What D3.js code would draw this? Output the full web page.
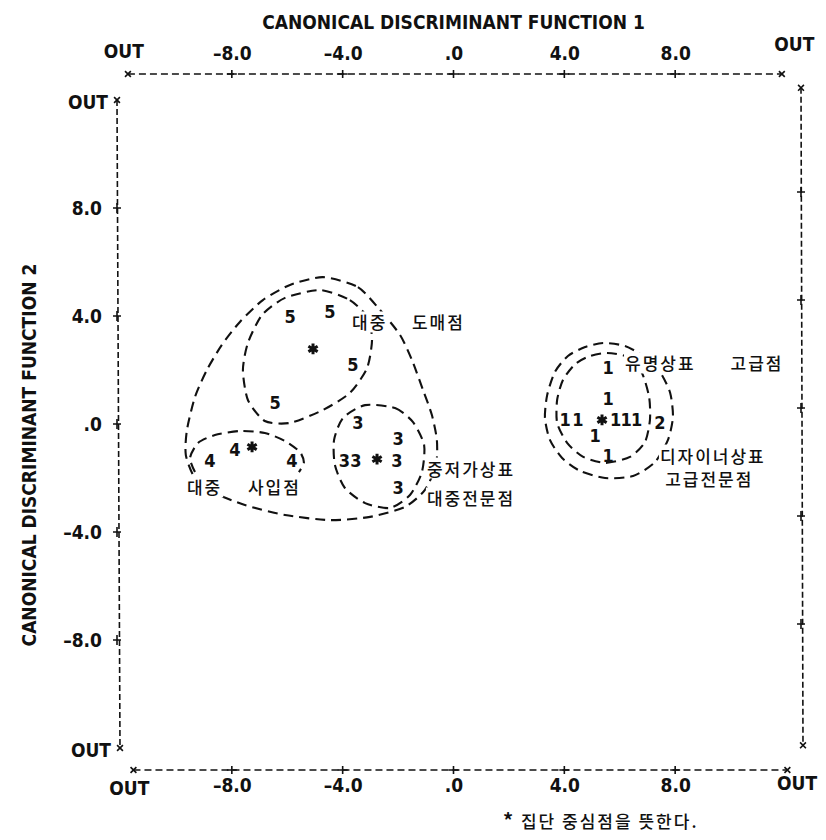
<!DOCTYPE html>
<html>
<head>
<meta charset="utf-8">
<script src="https://cdn.jsdelivr.net/npm/d3@7"></script>
<style>
body { margin: 0; background: #fff; }
svg { display: block; }
.ax { font-family: "Liberation Sans Narrow", "DejaVu Sans Condensed", sans-serif; font-weight: bold; font-size: 19px; fill: #111; }
.kr { font-family: "Noto Sans CJK KR", sans-serif; font-size: 17px; font-weight: 500; fill: #111; letter-spacing: 2px; }
.pt { font-family: "DejaVu Sans Condensed", "Liberation Sans", sans-serif; font-weight: bold; font-size: 18px; fill: #111; }
</style>
</head>
<body>
<svg id="chart" width="826" height="840"></svg>
<script>
// tick values shared by all four sides
var tickValues = [-8, -4, 0, 4, 8];

// cases, labelled with their group number
var group1X = [5.58, 5.58, 4.03, 4.49, 5.85, 6.23, 6.61, 5.11, 5.58];
var group1Y = [2.08, 0.96, 0.15, 0.15, 0.15, 0.15, 0.15, -0.41, -1.15];
var group2X = [7.45];
var group2Y = [0.04];
var group3X = [-3.45, -2.00, -3.94, -3.52, -2.04, -2.00];
var group3Y = [0.04, -0.55, -1.34, -1.34, -1.34, -2.37];
var group4X = [-8.79, -7.89, -5.83];
var group4Y = [-1.34, -0.96, -1.34];
var group5X = [-5.90, -4.46, -3.63, -6.44];
var group5Y = [3.97, 4.16, 2.19, 0.78];

// group centroids (*)
var centroidX = [5.36, -2.76, -7.27, -5.07];
var centroidY = [0.15, -1.30, -0.85, 2.78];

// hand drawn dashed outlines round the groups
var outline5X = [-4.82, -3.74, -3.09, -2.94, -3.12, -3.74, -4.71, -5.90, -6.81, -7.42, -7.60, -7.42, -6.91, -6.08];
var outline5Y = [4.96, 4.59, 3.93, 3.11, 2.07, 1.15, 0.52, 0.04, 0.11, 0.89, 2.0, 3.0, 4.04, 4.67];
var outline45X = [-4.71, -3.45, -2.65, -1.93, -1.50, -1.10, -0.78, -0.60, -0.63, -1.03, -1.75, -3.01, -4.46, -6.08, -7.53, -8.61, -9.33, -9.66, -9.62, -9.33, -8.90, -8.36, -7.71, -6.88, -5.90];
var outline45Y = [5.44, 5.07, 4.22, 3.30, 2.37, 1.26, 0.33, -0.59, -1.52, -2.44, -3.07, -3.44, -3.56, -3.37, -3.0, -2.56, -2.0, -1.15, -0.22, 1.0, 2.0, 2.93, 3.78, 4.59, 5.15];
var outline4X = [-9.33, -9.51, -9.22, -8.61, -7.71, -6.81, -6.08, -5.54, -5.40, -5.58];
var outline4Y = [-1.78, -1.26, -0.70, -0.41, -0.26, -0.33, -0.63, -1.04, -1.44, -1.78];
var outline3X = [-3.19, -2.11, -1.46, -1.06, -1.14, -1.57, -2.29, -3.19, -3.92, -4.28, -4.31, -3.99];
var outline3Y = [0.70, 0.59, 0.07, -0.78, -1.78, -2.63, -3.11, -2.93, -2.37, -1.52, -0.59, 0.22];
var outline1X = [5.54, 6.30, 6.80, 7.06, 7.09, 6.91, 6.37, 5.47, 4.68, 4.10, 3.74, 3.74, 3.95, 4.39, 4.93];
var outline1Y = [2.63, 2.48, 1.89, 1.0, 0.15, -0.67, -1.22, -1.44, -1.22, -0.70, 0.04, 0.89, 1.63, 2.22, 2.52];
var outline12X = [5.40, 6.19, 6.84, 7.45, 7.82, 7.92, 7.74, 7.27, 6.48, 5.47, 4.57, 3.92, 3.48, 3.30, 3.38, 3.66, 4.13, 4.75];
var outline12Y = [3.0, 2.89, 2.52, 1.93, 1.15, 0.26, -0.59, -1.41, -1.93, -2.0, -1.74, -1.26, -0.59, 0.22, 1.07, 1.93, 2.52, 2.85];

// Korean group names, anchored in function units
var noteText = ["대중", "도매점", "대중", "사입점", "중저가상표", "대중전문점", "유명상표", "고급점", "디자이너상표", "고급전문점"];
var noteX = [-3.66, -1.50, -9.62, -7.42, -0.96, -0.96, 6.19, 10.0, 7.45, 7.64];
var noteY = [3.78, 3.78, -2.33, -2.33, -1.63, -2.74, 2.26, 2.26, -1.15, -2.0];

var svg = d3.select("#chart");
var x = d3.scaleLinear().domain([-12, 12]).range([121, 786]);
var y = d3.scaleLinear().domain([-12, 12]).range([748, 100]);
var topY = 74, bottomY = 770, leftX = 117, rightX = 801;

function fmt(v) {
    if (v === 0) return ".0";
    return (v < 0 ? "\u2013" : "") + Math.abs(v).toFixed(1);
}

// titles
svg.append("text").attr("class", "ax")
    .attr("x", x(0)).attr("y", 29)
    .attr("text-anchor", "middle")
    .text("CANONICAL DISCRIMINANT FUNCTION 1");
svg.append("text").attr("class", "ax")
    .attr("transform", "translate(36," + y(-1.15) + ") rotate(-90)")
    .attr("text-anchor", "middle")
    .text("CANONICAL DISCRIMINANT FUNCTION 2");

// tick labels through d3 axes, lines drawn by hand below
function labelsOnly(g) {
    g.select(".domain").remove();
    g.selectAll("text").attr("class", "ax").attr("fill", null);
}
svg.append("g").attr("transform", "translate(0," + topY + ")")
    .call(d3.axisTop(x).tickValues(tickValues).tickSize(0).tickPadding(14).tickFormat(fmt))
    .call(labelsOnly);
svg.append("g").attr("transform", "translate(0," + bottomY + ")")
    .call(d3.axisBottom(x).tickValues(tickValues).tickSize(0).tickPadding(9).tickFormat(fmt))
    .call(labelsOnly);
svg.append("g").attr("transform", "translate(" + leftX + ",0)")
    .call(d3.axisLeft(y).tickValues(tickValues).tickSize(0).tickPadding(15).tickFormat(fmt))
    .call(labelsOnly);
svg.selectAll("g text").attr("font-family", null).attr("font-size", null);

// dashed frame
var dash = "7,4";
var frame = svg.append("g").attr("stroke", "#111").attr("stroke-width", 1.6).attr("fill", "none");
frame.append("line").attr("x1", x(-11.75)).attr("x2", x(11.85)).attr("y1", topY).attr("y2", topY).attr("stroke-dasharray", dash);
frame.append("line").attr("x1", x(-11.55)).attr("x2", x(12.05)).attr("y1", bottomY).attr("y2", bottomY).attr("stroke-dasharray", dash);
frame.append("line").attr("x1", leftX).attr("x2", leftX + 3).attr("y1", y(12)).attr("y2", y(-12)).attr("stroke-dasharray", "6,3");
frame.append("line").attr("x1", rightX).attr("x2", rightX + 2).attr("y1", y(12.45)).attr("y2", y(-11.9)).attr("stroke-dasharray", "6,3");

// + marks
tickValues.forEach(function (v) {
    frame.append("path").attr("d", "M" + (x(v) - 5) + "," + topY + "h10M" + x(v) + "," + (topY - 4) + "v8");
    frame.append("path").attr("d", "M" + (x(v) - 5) + "," + bottomY + "h10M" + x(v) + "," + (bottomY - 4) + "v8");
    frame.append("path").attr("d", "M" + (leftX - 4) + "," + y(v) + "h8M" + leftX + "," + (y(v) - 5) + "v10");
    frame.append("path").attr("d", "M" + (rightX - 4) + "," + (y(v) - 16) + "h8M" + rightX + "," + (y(v) - 21) + "v10");
});

// x marks at the OUT ends
var cross = d3.symbol().type(d3.symbolTimes).size(24);
[[x(-11.75), topY], [x(11.85), topY], [x(-11.55), bottomY], [x(12.05), bottomY],
 [leftX, y(12)], [leftX + 3, y(-12)], [rightX, y(12.45)], [rightX + 2, y(-11.9)]].forEach(function (p) {
    frame.append("path").attr("d", cross).attr("transform", "translate(" + p[0] + "," + p[1] + ")").attr("stroke-width", 1.6);
});

// OUT labels
var outs = [[x(-11.9), 58, "middle"], [x(12.3), 51, "middle"], [x(-11.7), 795, "middle"], [x(12.4), 790, "middle"],
            [leftX - 9, y(12) + 9, "end"], [leftX - 6, y(-12) + 9, "end"]];
outs.forEach(function (o) {
    svg.append("text").attr("class", "ax").attr("x", o[0]).attr("y", o[1]).attr("text-anchor", o[2]).text("OUT");
});

// dashed group outlines
var lineClosed = d3.line().x(function (d) { return x(d[0]); }).y(function (d) { return y(d[1]); }).curve(d3.curveCardinalClosed.tension(0.3));
var lineOpen = d3.line().x(function (d) { return x(d[0]); }).y(function (d) { return y(d[1]); }).curve(d3.curveCardinal.tension(0.3));
var outlines = svg.append("g").attr("fill", "none").attr("stroke", "#111").attr("stroke-width", 2.1).attr("stroke-dasharray", "10,6");
[[outline5X, outline5Y], [outline45X, outline45Y], [outline3X, outline3Y], [outline1X, outline1Y], [outline12X, outline12Y]].forEach(function (o) {
    outlines.append("path").attr("d", lineClosed(d3.zip(o[0], o[1])));
});
outlines.append("path").attr("d", lineOpen(d3.zip(outline4X, outline4Y)));

// notes get a white backing so the outlines break under them
var notes = svg.append("g");
noteText.forEach(function (t, i) {
    var tx = notes.append("text").attr("class", "kr")
        .attr("x", x(noteX[i])).attr("y", y(noteY[i]))
        .attr("dominant-baseline", "central").text(t);
    var b = tx.node().getBBox();
    notes.insert("rect", "text").attr("x", b.x - 1).attr("y", b.y + 2).attr("width", b.width + 2).attr("height", b.height - 4).attr("fill", "#fff");
});

// cases
var points = svg.append("g");
[[group1X, group1Y, "1"], [group2X, group2Y, "2"], [group3X, group3Y, "3"], [group4X, group4Y, "4"], [group5X, group5Y, "5"]].forEach(function (g) {
    points.selectAll(null).data(d3.zip(g[0], g[1])).enter().append("text")
        .attr("class", "pt")
        .attr("x", function (d) { return x(d[0]); })
        .attr("y", function (d) { return y(d[1]); })
        .attr("text-anchor", "middle").attr("dominant-baseline", "central")
        .text(g[2]);
});

// centroids
var star = d3.symbol().type(d3.symbolAsterisk).size(80);
points.selectAll(null).data(d3.zip(centroidX, centroidY)).enter().append("path")
    .attr("d", star)
    .attr("transform", function (d) { return "translate(" + x(d[0]) + "," + y(d[1]) + ")"; })
    .attr("stroke", "#111").attr("stroke-width", 3).attr("fill", "none");

// footnote
var foot = svg.append("text").attr("class", "kr").attr("x", 503).attr("y", 828);
foot.append("tspan").attr("font-weight", "bold").attr("font-size", "20px").text("*");
foot.append("tspan").text(" 집단 중심점을 뜻한다.");
</script>
</body>
</html>
